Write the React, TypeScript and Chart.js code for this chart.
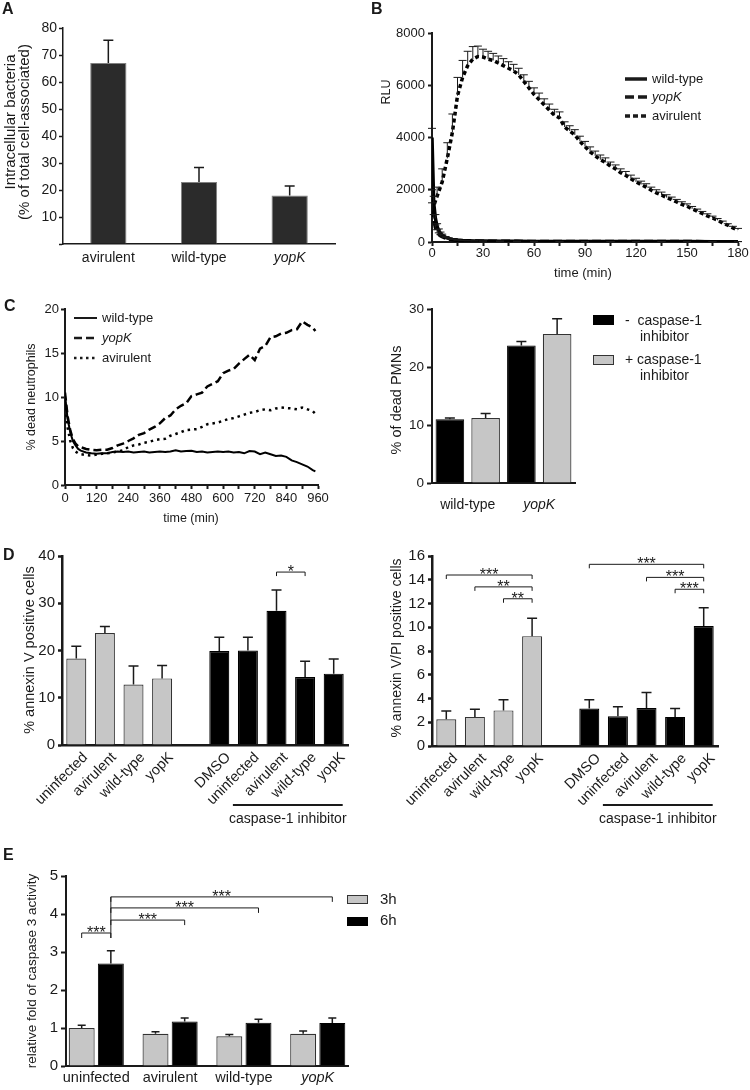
import React, { useEffect, useRef } from 'react';
import { Chart, registerables } from 'chart.js';

Chart.register(...registerables);

const FONT = "'Liberation Sans', Arial, Helvetica, sans-serif";
Chart.defaults.font.family = FONT;
Chart.defaults.color = '#1a1a1a';

const INK = '#1a1a1a';
const GRAY = '#c6c6c6';
const BLACK = '#000000';
const DARK = '#2b2b2b';

// ================= Panel A =================
const aCategories = ['avirulent', 'wild-type', 'yopK'];
const aValues = [67, 23, 18];
const aErrTop = [75.5, 28.3, 21.5];

// ================= Panel B =================
const bSeries = ['wild-type', 'yopK', 'avirulent'];
const bTimes = [0, 3, 6, 9, 12, 15, 18, 21, 24, 27, 30, 33, 36, 39, 42, 45, 48, 51, 54, 57, 60, 63, 66, 69, 72, 75, 78, 81, 84, 87, 90, 93, 96, 99, 102, 105, 108, 111, 114, 117, 120, 123, 126, 129, 132, 135, 138, 141, 144, 147, 150, 153, 156, 159, 162, 165, 168, 171, 174, 177, 180];
const bAvirulent = [1200, 1750, 2300, 3200, 4200, 5600, 6300, 6750, 7000, 7100, 7080, 7000, 6950, 6850, 6750, 6650, 6550, 6400, 6150, 5900, 5650, 5450, 5250, 5050, 4850, 4750, 4400, 4250, 4100, 3850, 3650, 3450, 3300, 3150, 3050, 2900, 2800, 2650, 2550, 2420, 2300, 2200, 2100, 1980, 1880, 1800, 1700, 1620, 1530, 1440, 1370, 1270, 1180, 1090, 1000, 920, 830, 730, 640, 540, 460];
const bAvirulentErrTop = [1500, 2100, 2800, 3800, 4900, 6300, 6950, 7300, 7480, 7500, 7380, 7300, 7220, 7120, 7020, 6900, 6800, 6650, 6400, 6150, 5900, 5700, 5480, 5280, 5080, 4980, 4600, 4450, 4300, 4050, 3850, 3640, 3480, 3330, 3220, 3060, 2950, 2800, 2700, 2560, 2440, 2330, 2230, 2100, 2000, 1910, 1810, 1720, 1630, 1540, 1460, 1360, 1260, 1170, 1080, 990, 900, 800, 700, 600, 520];
const bEarlyTimes = [0, 1, 2, 3, 4, 5, 6, 8, 10, 12, 15, 18, 21, 25, 30, 40, 50, 60, 75, 90, 105, 120, 135, 150, 165, 180];
const bWildType = [4000, 1500, 900, 600, 430, 330, 260, 180, 130, 100, 75, 60, 50, 42, 35, 28, 25, 22, 20, 18, 17, 16, 15, 15, 14, 14];
const bWildTypeErrTop = [4350, 1750, 1050, 700, 500, 380, 300, 210, 150, 115, 85, 70, 58, 48, 40, 32, 28, 25, 23, 21, 20, 18, 17, 17, 16, 16];
const bYopK = [1800, 900, 550, 400, 300, 240, 200, 150, 110, 85, 65, 52, 44, 38, 32, 27, 24, 22, 20, 18, 17, 16, 15, 15, 14, 14];
const bYopKErrTop = [2000, 1050, 650, 470, 350, 280, 230, 170, 125, 95, 72, 58, 48, 42, 35, 30, 26, 24, 22, 20, 19, 18, 17, 17, 16, 16];

// ================= Panel C (left) =================
const cSeries = ['wild-type', 'yopK', 'avirulent'];
const cTimes = [0, 10, 20, 30, 40, 50, 60, 80, 100, 120, 140, 160, 180, 200, 220, 240, 260, 280, 300, 320, 340, 360, 380, 400, 420, 440, 460, 480, 500, 520, 540, 560, 580, 600, 620, 640, 660, 680, 700, 720, 740, 760, 780, 800, 820, 840, 860, 880, 900, 920, 940, 950];
const cWildType = [10.2, 7.5, 6.0, 5.0, 4.5, 4.1, 3.9, 3.7, 3.6, 3.55, 3.6, 3.6, 3.75, 3.8, 3.75, 3.8, 3.7, 3.75, 3.8, 3.7, 3.75, 3.8, 3.75, 3.8, 3.95, 3.8, 3.85, 3.9, 3.75, 3.8, 3.7, 3.75, 3.8, 3.75, 3.8, 3.7, 3.75, 3.6, 3.85, 3.8, 3.5, 3.7, 3.5, 3.3, 3.35, 3.2, 2.8, 2.6, 2.35, 2.1, 1.7, 1.55];
const cYopK = [10.5, 7.8, 6.2, 5.2, 4.7, 4.4, 4.3, 4.1, 4.0, 3.95, 4.0, 4.0, 4.2, 4.5, 4.7, 5.0, 5.3, 5.7, 5.9, 6.3, 6.6, 7.0, 7.6, 7.9, 8.6, 9.0, 9.3, 10.1, 10.3, 10.5, 11.2, 11.5, 11.8, 12.7, 13.0, 13.2, 13.8, 14.3, 14.8, 14.2, 15.5, 15.8, 16.8, 16.9, 17.2, 17.3, 17.6, 17.7, 18.6, 18.2, 17.9, 17.5];
const cAvirulent = [9.5, 6.5, 5.0, 4.2, 3.8, 3.6, 3.5, 3.4, 3.35, 3.45, 3.55, 3.6, 3.7, 3.8, 3.95, 4.3, 4.5, 4.6, 4.8, 4.9, 5.1, 5.2, 5.25, 5.6, 5.8, 6.0, 6.25, 6.3, 6.35, 6.6, 6.9, 7.0, 7.1, 7.3, 7.5, 7.6, 7.8, 8.0, 8.2, 8.3, 8.5, 8.6, 8.5, 8.7, 8.8, 8.75, 8.7, 8.6, 8.8, 8.6, 8.4, 8.1];

// ================= Panel C (right) =================
const c2Categories = ['wild-type', 'yopK'];
const c2Legend = ['-  caspase-1', '+ caspase-1'];
const c2Minus = [11.0, 23.7];
const c2MinusErrTop = [11.2, 24.4];
const c2Plus = [11.2, 25.7];
const c2PlusErrTop = [12.0, 28.3];

// ================= Panel D =================
const dCategories = ['uninfected', 'avirulent', 'wild-type', 'yopK', '', 'DMSO', 'uninfected', 'avirulent', 'wild-type', 'yopK'];
const d1Values = [18.3, 23.7, 12.8, 14.1, null, 19.9, 20.0, 28.4, 14.4, 15.1];
const d1ErrTop = [20.9, 25.1, 16.7, 16.8, null, 22.8, 22.8, 32.8, 17.7, 18.2];
const d2Values = [2.25, 2.45, 3.0, 9.25, null, 3.15, 2.5, 3.2, 2.45, 10.1];
const d2ErrTop = [2.95, 3.1, 3.9, 10.75, null, 3.9, 3.3, 4.5, 3.15, 11.65];
const sigD1 = [{ a: 7, b: 8, level: 36.6, label: '*' }];
const sigD2 = [
  { a: 0, b: 3, level: 14.4, label: '***' },
  { a: 1, b: 3, level: 13.4, label: '**' },
  { a: 2, b: 3, level: 12.4, label: '**' },
  { a: 5, b: 9, level: 15.3, label: '***' },
  { a: 7, b: 9, level: 14.2, label: '***' },
  { a: 8, b: 9, level: 13.2, label: '***' },
];

// ================= Panel E =================
const eCategories = ['uninfected', 'avirulent', 'wild-type', 'yopK'];
const eLegend = ['3h', '6h'];
const e3h = [1.0, 0.85, 0.78, 0.85];
const e3hErrTop = [1.07, 0.9, 0.83, 0.92];
const e6h = [2.7, 1.17, 1.14, 1.13];
const e6hErrTop = [3.03, 1.26, 1.23, 1.26];
const sigE = [
  { from: [0, 0], to: [1, 0], level: 3.5, label: '***' },
  { from: [1, 0], to: [1, 1], level: 3.84, label: '***' },
  { from: [1, 0], to: [1, 2], level: 4.16, label: '***' },
  { from: [1, 0], to: [1, 3], level: 4.45, label: '***' },
];

// ================= helpers =================
type Ctx = CanvasRenderingContext2D;

function text(ctx: Ctx, s: string, x: number, y: number, o: any = {}) {
  ctx.save();
  ctx.font = `${o.style || 'normal'} ${o.weight || 'normal'} ${o.size || 14}px ${FONT}`;
  ctx.fillStyle = o.color || INK;
  ctx.textAlign = o.align || 'left';
  ctx.textBaseline = o.base || 'middle';
  ctx.translate(x, y);
  if (o.rot) ctx.rotate(o.rot);
  ctx.fillText(s, 0, 0);
  ctx.restore();
}

function line(ctx: Ctx, x1: number, y1: number, x2: number, y2: number, w = 1, dash: number[] = []) {
  ctx.save();
  ctx.strokeStyle = INK;
  ctx.lineWidth = w;
  ctx.setLineDash(dash);
  ctx.beginPath();
  ctx.moveTo(x1, y1);
  ctx.lineTo(x2, y2);
  ctx.stroke();
  ctx.restore();
}

function bracket(ctx: Ctx, x1: number, x2: number, y: number, label: string, tick = 5, size = 16) {
  ctx.save();
  ctx.strokeStyle = INK;
  ctx.lineWidth = 1;
  ctx.beginPath();
  ctx.moveTo(x1, y + tick);
  ctx.lineTo(x1, y);
  ctx.lineTo(x2, y);
  ctx.lineTo(x2, y + tick);
  ctx.stroke();
  ctx.restore();
  text(ctx, label, (x1 + x2) / 2, y + 5, { size, align: 'center', base: 'alphabetic' });
}

function box(ctx: Ctx, x: number, y: number, w: number, h: number, fill: string, stroke?: string) {
  ctx.save();
  ctx.fillStyle = fill;
  ctx.fillRect(x, y, w, h);
  if (stroke) {
    ctx.strokeStyle = stroke;
    ctx.lineWidth = 1;
    ctx.strokeRect(x + 0.5, y + 0.5, w - 1, h - 1);
  }
  ctx.restore();
}

const ROT = -Math.PI / 2;

const errorBarPlugin = {
  id: 'errorBars',
  afterDatasetsDraw(chart: any) {
    const ctx: Ctx = chart.ctx;
    chart.data.datasets.forEach((ds: any, di: number) => {
      if (!ds.errTop) return;
      const meta = chart.getDatasetMeta(di);
      const ys = chart.scales[meta.yAxisID];
      ctx.save();
      ctx.strokeStyle = INK;
      ctx.lineWidth = ds.errWidth ?? 1.5;
      ctx.setLineDash([]);
      meta.data.forEach((el: any, i: number) => {
        const top = ds.errTop[i];
        if (top == null || !el || !isFinite(el.x) || !isFinite(el.y)) return;
        const raw = ds.data[i];
        if (raw == null) return;
        const x = el.x;
        const y1 = ys.getPixelForValue(top);
        const cap = ds.errCap ?? 4;
        ctx.beginPath();
        ctx.moveTo(x, el.y);
        ctx.lineTo(x, y1);
        ctx.moveTo(x - cap, y1);
        ctx.lineTo(x + cap, y1);
        ctx.stroke();
      });
      ctx.restore();
    });
  },
};

const overlay = (id: string, fn: (ctx: Ctx, chart: any) => void) => ({
  id,
  afterDraw(chart: any) {
    const ctx: Ctx = chart.ctx;
    ctx.save();
    fn(ctx, chart);
    ctx.restore();
  },
});

const fixW = (w: number) => (s: any) => {
  s.width = w;
  s.paddingTop = 0;
  s.paddingBottom = 0;
};
const fixH = (h: number) => (s: any) => {
  s.height = h;
  s.paddingLeft = 0;
  s.paddingRight = 0;
};

function baseOptions(T: number, R: number) {
  return {
    responsive: false,
    maintainAspectRatio: false,
    animation: false,
    devicePixelRatio: 1,
    events: [],
    layout: { padding: { left: 0, top: T, right: R, bottom: 0 } },
    plugins: { legend: { display: false }, tooltip: { enabled: false }, title: { display: false } },
  };
}

function yScale(o: any) {
  return {
    type: 'linear',
    min: o.min,
    max: o.max,
    ticks: {
      stepSize: o.step,
      font: { size: o.size },
      color: INK,
      padding: o.pad ?? 3,
      callback: (v: number) => (o.hideZero && v === 0 ? '' : String(v)),
    },
    grid: { display: true, drawOnChartArea: false, drawTicks: true, tickLength: o.tl ?? 4, tickColor: INK, tickWidth: o.bw, color: INK },
    border: { display: true, color: INK, width: o.bw },
    afterFit: fixW(o.L),
  };
}

function xCat(o: any) {
  return {
    type: 'category',
    ticks: {
      padding: o.pad,
      color: INK,
      autoSkip: false,
      maxRotation: o.rot ?? 0,
      minRotation: o.rot ?? 0,
      labelOffset: o.labelOffset ?? 0,
      font: (c: any) => ({ size: o.size, style: o.italic && o.italic(c.index) ? 'italic' : 'normal' }),
    },
    grid: { display: false, drawTicks: false, tickLength: 0 },
    border: { display: true, color: INK, width: o.bw },
    afterFit: fixH(o.B),
  };
}

function xLin(o: any) {
  return {
    type: 'linear',
    min: o.min,
    max: o.max,
    bounds: 'data',
    ticks: {
      stepSize: o.step,
      autoSkip: false,
      maxRotation: 0,
      padding: o.pad,
      color: INK,
      font: { size: o.size },
      callback: (v: number) => (v % o.label === 0 ? String(v) : ''),
    },
    grid: { display: true, drawOnChartArea: false, drawTicks: true, tickLength: 4, tickColor: INK, tickWidth: o.bw, color: INK },
    border: { display: true, color: INK, width: o.bw },
    afterFit: fixH(o.B),
  };
}

const pts = (xs: number[], ys: number[]) => xs.map((x, i) => ({ x, y: ys[i] }));

// ================= chart builders =================
const makeA = () => ({
  type: 'bar',
  data: {
    labels: aCategories,
    datasets: [
      {
        data: aValues,
        errTop: aErrTop,
        errCap: 5,
        errWidth: 1.5,
        backgroundColor: DARK,
        borderColor: '#808080',
        borderWidth: 1,
        barPercentage: 0.4,
        categoryPercentage: 1,
      },
    ],
  },
  options: {
    ...baseOptions(28, 30),
    scales: {
      x: xCat({ B: 46, size: 14, bw: 1.5, pad: 6, italic: (i: number) => aCategories[i] === 'yopK' }),
      y: yScale({ min: 0, max: 80, step: 10, L: 63, size: 14, bw: 1.5, tl: 4, pad: 2, hideZero: true }),
    },
  },
  plugins: [
    errorBarPlugin,
    overlay('ovA', (ctx) => {
      text(ctx, 'A', 2, 10, { size: 16, weight: 'bold' });
      text(ctx, 'Intracellular bacteria', 11, 122, { size: 15, rot: ROT, align: 'center' });
      text(ctx, '(% of total cell-associated)', 25, 132, { size: 15, rot: ROT, align: 'center' });
    }),
  ],
});

const makeB = () => ({
  type: 'line',
  data: {
    datasets: [
      { label: bSeries[0], data: pts(bEarlyTimes, bWildType), errTop: bWildTypeErrTop, errCap: 4, errWidth: 1, borderColor: BLACK, borderWidth: 3.5, pointRadius: 0 },
      { label: bSeries[1], data: pts(bEarlyTimes, bYopK), errTop: bYopKErrTop, errCap: 4, errWidth: 1, borderColor: BLACK, borderWidth: 3.5, borderDash: [9, 4], pointRadius: 0 },
      { label: bSeries[2], data: pts(bTimes, bAvirulent), errTop: bAvirulentErrTop, errCap: 4, errWidth: 1, borderColor: BLACK, borderWidth: 3.5, borderDash: [4, 3], pointRadius: 0 },
    ],
  },
  options: {
    ...baseOptions(33, 12),
    scales: {
      x: xLin({ min: 0, max: 180, step: 15, label: 30, B: 48, size: 13, bw: 2, pad: 0 }),
      y: yScale({ min: 0, max: 8000, step: 2000, L: 67, size: 13, bw: 2, tl: 4, pad: 3 }),
    },
  },
  plugins: [
    errorBarPlugin,
    overlay('ovB', (ctx) => {
      text(ctx, 'B', 6, 10, { size: 16, weight: 'bold' });
      text(ctx, 'RLU', 22, 92, { size: 12.5, rot: ROT, align: 'center' });
      text(ctx, 'time (min)', 218, 273, { size: 13, align: 'center' });
      const dashes = [[], [9, 4], [5, 3]];
      const rows = [79, 97, 116];
      bSeries.forEach((s, i) => {
        line(ctx, 260, rows[i], 282, rows[i], 3.5, dashes[i]);
        text(ctx, s, 287, rows[i], { size: 13, style: s === 'yopK' ? 'italic' : 'normal' });
      });
    }),
  ],
});

const makeC1 = () => ({
  type: 'line',
  data: {
    datasets: [
      { label: cSeries[0], data: pts(cTimes, cWildType), borderColor: BLACK, borderWidth: 2, pointRadius: 0 },
      { label: cSeries[1], data: pts(cTimes, cYopK), borderColor: BLACK, borderWidth: 2.5, borderDash: [8, 4], pointRadius: 0 },
      { label: cSeries[2], data: pts(cTimes, cAvirulent), borderColor: BLACK, borderWidth: 2.5, borderDash: [2.5, 4], pointRadius: 0 },
    ],
  },
  options: {
    ...baseOptions(19, 57),
    scales: {
      x: xLin({ min: 0, max: 960, step: 60, label: 120, B: 45, size: 13, bw: 2, pad: 2 }),
      y: yScale({ min: 0, max: 20, step: 5, L: 65, size: 13, bw: 2, tl: 4, pad: 2 }),
    },
  },
  plugins: [
    overlay('ovC1', (ctx) => {
      text(ctx, 'C', 4, 17, { size: 16, weight: 'bold' });
      text(ctx, '% dead neutrophils', 32, 107, { size: 12.5, rot: ROT, align: 'center' });
      text(ctx, 'time (min)', 191, 229, { size: 12.5, align: 'center' });
      const dashes = [[], [8, 4], [2.5, 3.5]];
      const widths = [2, 2.5, 2.5];
      const rows = [28, 48, 68];
      cSeries.forEach((s, i) => {
        line(ctx, 74, rows[i], 97, rows[i], widths[i], dashes[i]);
        text(ctx, s, 102, rows[i], { size: 13, style: s === 'yopK' ? 'italic' : 'normal' });
      });
    }),
  ],
});

const makeC2 = () => ({
  type: 'bar',
  data: {
    labels: c2Categories,
    datasets: [
      { data: c2Minus, errTop: c2MinusErrTop, errCap: 5, backgroundColor: BLACK, borderColor: BLACK, borderWidth: 1, barPercentage: 0.8, categoryPercentage: 1 },
      { data: c2Plus, errTop: c2PlusErrTop, errCap: 5, backgroundColor: GRAY, borderColor: '#333', borderWidth: 1.2, barPercentage: 0.8, categoryPercentage: 1 },
    ],
  },
  options: {
    ...baseOptions(19, 175),
    scales: {
      x: xCat({ B: 47, size: 14, bw: 2, pad: 14, italic: (i: number) => c2Categories[i] === 'yopK' }),
      y: yScale({ min: 0, max: 30, step: 10, L: 57, size: 13.5, bw: 2, tl: 5, pad: 3 }),
    },
  },
  plugins: [
    errorBarPlugin,
    overlay('ovC2', (ctx) => {
      text(ctx, '% of dead PMNs', 22, 110, { size: 14.5, rot: ROT, align: 'center' });
      box(ctx, 218, 25, 21, 10, BLACK);
      text(ctx, c2Legend[0], 250, 31, { size: 14 });
      text(ctx, 'inhibitor', 265, 47, { size: 14 });
      box(ctx, 218, 65, 21, 10, GRAY, '#333');
      text(ctx, c2Legend[1], 250, 70, { size: 14 });
      text(ctx, 'inhibitor', 265, 86, { size: 14 });
    }),
  ],
});

function drawCaspaseLine(ctx: Ctx, chart: any) {
  const x = chart.scales.x;
  const x1 = x.getPixelForValue(6) - 15;
  const x2 = x.getPixelForValue(9) + 9;
  line(ctx, x1, 275, x2, 275, 2);
  text(ctx, 'caspase-1 inhibitor', (x1 + x2) / 2, 289, { size: 14, align: 'center' });
}

function drawSigCat(ctx: Ctx, chart: any, sigs: any[]) {
  const x = chart.scales.x;
  const y = chart.scales.y;
  sigs.forEach((s) => bracket(ctx, x.getPixelForValue(s.a), x.getPixelForValue(s.b), y.getPixelForValue(s.level), s.label, 4, 16));
}

const dDataset = (values: any[], errTop: any[]) => ({
  data: values,
  errTop,
  errCap: 5,
  backgroundColor: (c: any) => (c.dataIndex < 4 ? GRAY : BLACK),
  borderColor: (c: any) => (c.dataIndex < 4 ? '#333' : BLACK),
  borderWidth: 1.2,
  barPercentage: 0.7,
  categoryPercentage: 1,
});

const makeD1 = () => ({
  type: 'bar',
  data: { labels: dCategories, datasets: [dDataset(d1Values, d1ErrTop)] },
  options: {
    ...baseOptions(26, 27),
    scales: {
      x: xCat({ B: 85, size: 14.5, bw: 2.5, pad: 4, rot: 45, labelOffset: 9 }),
      y: yScale({ min: 0, max: 40, step: 10, L: 62, size: 15, bw: 2.5, tl: 4, pad: 3 }),
    },
  },
  plugins: [
    errorBarPlugin,
    overlay('ovD1', (ctx, chart) => {
      text(ctx, 'D', 3, 26, { size: 16, weight: 'bold' });
      text(ctx, '% annexin V positive cells', 30, 120, { size: 14.5, rot: ROT, align: 'center' });
      drawSigCat(ctx, chart, sigD1);
      drawCaspaseLine(ctx, chart);
    }),
  ],
});

const makeD2 = () => ({
  type: 'bar',
  data: { labels: dCategories, datasets: [dDataset(d2Values, d2ErrTop)] },
  options: {
    ...baseOptions(26, 32),
    scales: {
      x: xCat({ B: 84, size: 14.5, bw: 2.5, pad: 4, rot: 45, labelOffset: 9 }),
      y: yScale({ min: 0, max: 16, step: 2, L: 57, size: 15, bw: 2.5, tl: 4, pad: 3 }),
    },
  },
  plugins: [
    errorBarPlugin,
    overlay('ovD2', (ctx, chart) => {
      text(ctx, '% annexin V/PI positive cells', 22, 118, { size: 14, rot: ROT, align: 'center' });
      drawSigCat(ctx, chart, sigD2);
      drawCaspaseLine(ctx, chart);
    }),
  ],
});

const makeE = () => ({
  type: 'bar',
  data: {
    datasets: [
      { label: eLegend[0], data: pts([0, 1, 2, 3], e3h), errTop: e3hErrTop, errCap: 4, backgroundColor: GRAY, borderColor: '#333', borderWidth: 1.2, barPercentage: 0.89, categoryPercentage: 0.79 },
      { label: eLegend[1], data: pts([0, 1, 2, 3], e6h), errTop: e6hErrTop, errCap: 4, backgroundColor: BLACK, borderColor: BLACK, borderWidth: 1, barPercentage: 0.89, categoryPercentage: 0.79 },
    ],
  },
  options: {
    ...baseOptions(46, 402),
    scales: {
      x: {
        type: 'linear',
        min: -0.41,
        max: 3.41,
        bounds: 'data',
        offset: false,
        afterBuildTicks: (s: any) => {
          s.ticks = eCategories.map((_, i) => ({ value: i }));
        },
        ticks: {
          autoSkip: false,
          maxRotation: 0,
          padding: 3,
          color: INK,
          font: (c: any) => ({ size: 14.5, style: c.tick && eCategories[c.tick.value] === 'yopK' ? 'italic' : 'normal' }),
          callback: (v: number) => eCategories[Math.round(v)] ?? '',
        },
        grid: { display: false, drawTicks: false, tickLength: 0 },
        border: { display: true, color: INK, width: 2 },
        afterFit: fixH(24),
      },
      y: yScale({ min: 0, max: 5, step: 1, L: 66, size: 15, bw: 2, tl: 5, pad: 3 }),
    },
  },
  plugins: [
    errorBarPlugin,
    overlay('ovE', (ctx, chart) => {
      text(ctx, 'E', 3, 26, { size: 16, weight: 'bold' });
      text(ctx, 'relative fold of caspase 3 activity', 32, 141, { size: 13.5, rot: ROT, align: 'center' });
      const y = chart.scales.y;
      const px = (p: number[]) => chart.getDatasetMeta(p[0]).data[p[1]].x;
      const anchor = px([1, 0]);
      const ys: number[] = [];
      sigE.forEach((s) => {
        const yy = y.getPixelForValue(s.level);
        const xa = px(s.from);
        const xb = px(s.to);
        bracket(ctx, xa, xb, yy, s.label, 5, 16);
        if (Math.abs(xa - anchor) < 0.5 || Math.abs(xb - anchor) < 0.5) ys.push(yy);
      });
      if (ys.length) line(ctx, anchor, Math.min(...ys), anchor, Math.max(...ys) + 5, 1);
      box(ctx, 347, 65, 21, 9, GRAY, '#333');
      text(ctx, eLegend[0], 380, 70, { size: 15 });
      box(ctx, 347, 87, 21, 9, BLACK);
      text(ctx, eLegend[1], 380, 91, { size: 15 });
    }),
  ],
});

// ================= components =================
function ChartCanvas({ x, y, w, h, make }: { x: number; y: number; w: number; h: number; make: () => any }) {
  const ref = useRef<HTMLCanvasElement | null>(null);
  useEffect(() => {
    if (!ref.current) return;
    const chart = new Chart(ref.current, make());
    return () => chart.destroy();
  }, [make]);
  return <canvas ref={ref} width={w} height={h} style={{ position: 'absolute', left: x, top: y, width: w, height: h }} />;
}

export default function App() {
  return (
    <div style={{ position: 'absolute', left: 0, top: 0, width: 750, height: 1090, overflow: 'hidden', background: '#ffffff' }}>
      <ChartCanvas x={0} y={0} w={365} h={290} make={makeA} />
      <ChartCanvas x={365} y={0} w={385} h={290} make={makeB} />
      <ChartCanvas x={0} y={290} w={375} h={240} make={makeC1} />
      <ChartCanvas x={375} y={290} w={375} h={240} make={makeC2} />
      <ChartCanvas x={0} y={530} w={375} h={300} make={makeD1} />
      <ChartCanvas x={375} y={530} w={375} h={300} make={makeD2} />
      <ChartCanvas x={0} y={830} w={750} h={260} make={makeE} />
    </div>
  );
}
